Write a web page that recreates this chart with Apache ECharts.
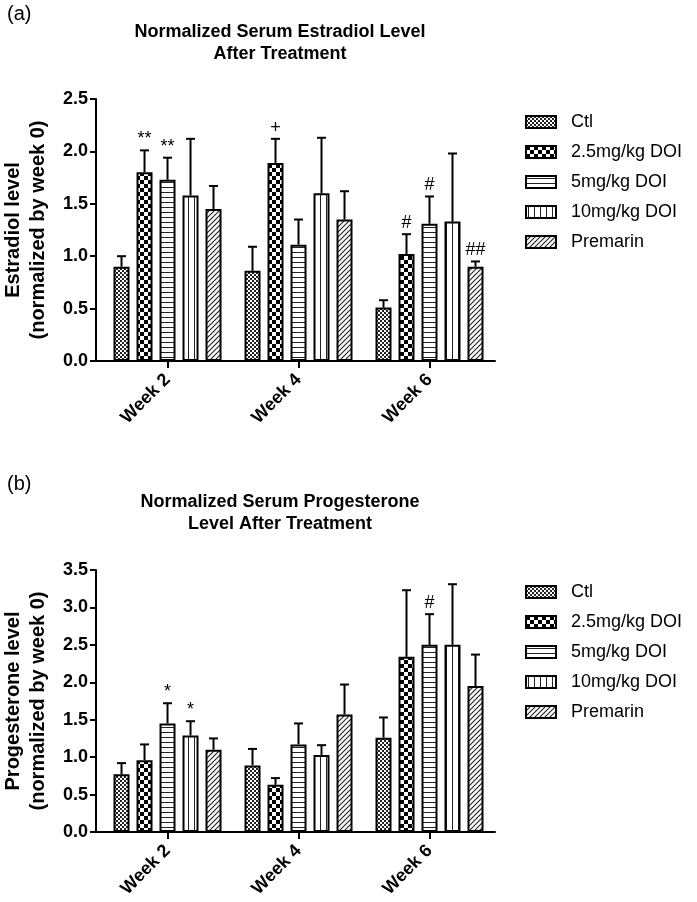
<!DOCTYPE html>
<html>
<head>
<meta charset="utf-8">
<script src="https://cdn.jsdelivr.net/npm/echarts@6/dist/echarts.min.js"></script>
<style>
html,body{margin:0;padding:0;background:#fff;}
#chart{width:697px;height:902px;}
</style>
</head>
<body>
<div id="chart"></div>
<script>
// ---------- data ----------
const weeks = ['Week 2', 'Week 4', 'Week 6'];
const groups = ['Ctl', '2.5mg/kg DOI', '5mg/kg DOI', '10mg/kg DOI', 'Premarin'];
const yTicksA = [0, 0.5, 1.0, 1.5, 2.0, 2.5];
const yTicksB = [0, 0.5, 1.0, 1.5, 2.0, 2.5, 3.0, 3.5];

// (a) Estradiol: means and SEM
const estCtl    = [0.90, 0.86, 0.51];
const estDoi25  = [1.80, 1.89, 1.02];
const estDoi5   = [1.73, 1.11, 1.31];
const estDoi10  = [1.58, 1.60, 1.33];
const estPrem   = [1.45, 1.35, 0.90];
const estCtlErr   = [0.10, 0.23, 0.07];
const estDoi25Err = [0.21, 0.23, 0.19];
const estDoi5Err  = [0.21, 0.24, 0.26];
const estDoi10Err = [0.54, 0.53, 0.65];
const estPremErr  = [0.22, 0.27, 0.05];
const estAnnoCtl   = ['', '', ''];
const estAnnoDoi25 = ['**', '+', '#'];
const estAnnoDoi5  = ['**', '', '#'];
const estAnnoDoi10 = ['', '', ''];
const estAnnoPrem  = ['', '', '##'];

// (b) Progesterone: means and SEM
const progCtl    = [0.77, 0.89, 1.26];
const progDoi25  = [0.96, 0.63, 2.34];
const progDoi5   = [1.45, 1.17, 2.50];
const progDoi10  = [1.29, 1.03, 2.50];
const progPrem   = [1.10, 1.57, 1.95];
const progCtlErr   = [0.15, 0.22, 0.27];
const progDoi25Err = [0.21, 0.09, 0.89];
const progDoi5Err  = [0.27, 0.28, 0.41];
const progDoi10Err = [0.19, 0.13, 0.81];
const progPremErr  = [0.15, 0.40, 0.42];
const progAnnoCtl   = ['', '', ''];
const progAnnoDoi25 = ['', '', ''];
const progAnnoDoi5  = ['*', '', '#'];
const progAnnoDoi10 = ['*', '', ''];
const progAnnoPrem  = ['', '', ''];

// ---------- styles ----------
const FONT = "'Liberation Sans', Arial, Helvetica, sans-serif";
const BAR_W = 16;
const BAR_GAP = 7;
const BAR_STEP = BAR_W + BAR_GAP;

function makePattern(kind) {
  const c = document.createElement('canvas');
  const ctx = c.getContext('2d');
  if (kind === 'fine') {
    c.width = 4; c.height = 4;
    ctx.fillStyle = '#fff'; ctx.fillRect(0, 0, 4, 4);
    ctx.fillStyle = '#222'; ctx.fillRect(0, 0, 2, 2); ctx.fillRect(2, 2, 2, 2);
  } else if (kind === 'checker') {
    c.width = 8; c.height = 8;
    ctx.fillStyle = '#fff'; ctx.fillRect(0, 0, 8, 8);
    ctx.fillStyle = '#000'; ctx.fillRect(0, 0, 4, 4); ctx.fillRect(4, 4, 4, 4);
  } else if (kind === 'hline') {
    c.width = 4; c.height = 5;
    ctx.fillStyle = '#fff'; ctx.fillRect(0, 0, 4, 5);
    ctx.fillStyle = '#222'; ctx.fillRect(0, 2, 4, 1);
  } else if (kind === 'vline') {
    c.width = 6; c.height = 4;
    ctx.fillStyle = '#fff'; ctx.fillRect(0, 0, 6, 4);
    ctx.fillStyle = '#222'; ctx.fillRect(2, 0, 1, 4);
  } else if (kind === 'diag') {
    c.width = 5; c.height = 5;
    ctx.fillStyle = '#fff'; ctx.fillRect(0, 0, 5, 5);
    ctx.strokeStyle = '#222'; ctx.lineWidth = 1.1;
    ctx.beginPath();
    ctx.moveTo(-1, 6); ctx.lineTo(6, -1);
    ctx.moveTo(-1, 1); ctx.lineTo(1, -1);
    ctx.moveTo(4, 6); ctx.lineTo(6, 4);
    ctx.stroke();
  }
  return { image: c, repeat: 'repeat' };
}
const patterns = [makePattern('fine'), makePattern('checker'), makePattern('hline'), makePattern('vline'), makePattern('diag')];

const estVals = [estCtl, estDoi25, estDoi5, estDoi10, estPrem];
const estErrs = [estCtlErr, estDoi25Err, estDoi5Err, estDoi10Err, estPremErr];
const estAnnos = [estAnnoCtl, estAnnoDoi25, estAnnoDoi5, estAnnoDoi10, estAnnoPrem];
const progVals = [progCtl, progDoi25, progDoi5, progDoi10, progPrem];
const progErrs = [progCtlErr, progDoi25Err, progDoi5Err, progDoi10Err, progPremErr];
const progAnnos = [progAnnoCtl, progAnnoDoi25, progAnnoDoi5, progAnnoDoi10, progAnnoPrem];

function barSeries(vals, gi) {
  return groups.map((g, i) => ({
    type: 'bar', name: g, xAxisIndex: gi, yAxisIndex: gi,
    barWidth: BAR_W, barGap: (BAR_GAP / BAR_W * 100) + '%',
    data: vals[i].map((v, j) => [j, v]),
    itemStyle: { color: patterns[i], borderColor: '#000', borderWidth: 2 },
    emphasis: { disabled: true },
    animation: false, z: 2
  }));
}

function errSeries(vals, errs, annos, gi) {
  const data = [];
  vals.forEach((arr, i) => arr.forEach((v, j) => data.push([j, v, errs[i][j], i])));
  return {
    type: 'custom', name: 'err' + gi, xAxisIndex: gi, yAxisIndex: gi,
    data: data, encode: { x: 0, y: 1 }, animation: false, z: 3, silent: true,
    renderItem: function (params, api) {
      const j = api.value(0), v = api.value(1), e = api.value(2), i = api.value(3);
      const base = api.coord([j, v]);
      const top = api.coord([j, v + e]);
      const x = base[0] + (i - 2) * BAR_STEP;
      const children = [
        { type: 'line', shape: { x1: x, y1: base[1], x2: x, y2: top[1] }, style: { stroke: '#000', lineWidth: 2 } },
        { type: 'line', shape: { x1: x - 4.5, y1: top[1], x2: x + 4.5, y2: top[1] }, style: { stroke: '#000', lineWidth: 2 } }
      ];
      const a = annos[i][j];
      if (a) {
        children.push({ type: 'text', x: x, y: top[1] - 2,
          style: { text: a, fontSize: 18, fontFamily: FONT, fill: '#000', align: 'center', verticalAlign: 'bottom' } });
      }
      return { type: 'group', children: children };
    }
  };
}

function xAxis(gi) {
  return {
    type: 'value', gridIndex: gi, min: -0.546, max: 2.5,
    splitLine: { show: false },
    axisLine: { show: true, onZero: false, lineStyle: { color: '#000', width: 2 } },
    axisTick: { show: true, customValues: [0, 1, 2], length: 7, lineStyle: { color: '#000', width: 2 } },
    axisLabel: { customValues: [0, 1, 2], formatter: v => weeks[Math.round(v)], rotate: 45,
      fontSize: 18, fontWeight: 'bold', fontFamily: FONT, color: '#000', margin: 16 }
  };
}
function yAxis(gi, ticks, name) {
  return {
    type: 'value', gridIndex: gi, min: ticks[0], max: ticks[ticks.length - 1], interval: 0.5,
    splitLine: { show: false },
    axisLine: { show: true, onZero: false, lineStyle: { color: '#000', width: 2 } },
    axisTick: { show: true, length: 6, lineStyle: { color: '#000', width: 2 } },
    axisLabel: { formatter: v => v.toFixed(1), fontSize: 18, fontWeight: 'bold', fontFamily: FONT, color: '#000', margin: 8 },
    name: name, nameLocation: 'middle', nameRotate: 90, nameGap: 45,
    nameTextStyle: { fontSize: 20, fontWeight: 'bold', fontFamily: FONT, color: '#000', lineHeight: 25 }
  };
}
function legend(top) {
  return {
    data: groups, orient: 'vertical', left: 520, top: top, itemWidth: 30, itemHeight: 12, itemGap: 10,
    icon: 'rect', selectedMode: false,
    itemStyle: { borderColor: '#000', borderWidth: 2 },
    textStyle: { fontSize: 18, fontFamily: FONT, color: '#000', lineHeight: 20, padding: [0, 0, 0, 10] }
  };
}

const chart = echarts.init(document.getElementById('chart'), null, { renderer: 'canvas' });
chart.setOption({
  backgroundColor: '#fff',
  animation: false,
  textStyle: { fontFamily: FONT },
  title: [
    { text: '(a)', left: 2, top: -1, textStyle: { fontSize: 20, fontWeight: 'normal', fontFamily: FONT, color: '#000' } },
    { text: 'Normalized Serum Estradiol Level\nAfter Treatment', left: 275, top: 16, textAlign: 'center',
      textStyle: { fontSize: 18, fontWeight: 'bold', fontFamily: FONT, color: '#000', lineHeight: 22 } },
    { text: '(b)', left: 2, top: 469, textStyle: { fontSize: 20, fontWeight: 'normal', fontFamily: FONT, color: '#000' } },
    { text: 'Normalized Serum Progesterone\nLevel After Treatment', left: 275, top: 486, textAlign: 'center',
      textStyle: { fontSize: 18, fontWeight: 'bold', fontFamily: FONT, color: '#000', lineHeight: 22 } }
  ],
  legend: [legend(107), legend(577)],
  grid: [
    { left: 96, top: 99, width: 399, height: 262, containLabel: false, outerBoundsMode: 'none' },
    { left: 96, top: 570, width: 399, height: 262, containLabel: false, outerBoundsMode: 'none' }
  ],
  xAxis: [xAxis(0), xAxis(1)],
  yAxis: [
    yAxis(0, yTicksA, 'Estradiol level\n(normalized by week 0)'),
    yAxis(1, yTicksB, 'Progesterone level\n(normalized by week 0)')
  ],
  series: [].concat(
    barSeries(estVals, 0), [errSeries(estVals, estErrs, estAnnos, 0)],
    barSeries(progVals, 1), [errSeries(progVals, progErrs, progAnnos, 1)]
  )
});
</script>
</body>
</html>
